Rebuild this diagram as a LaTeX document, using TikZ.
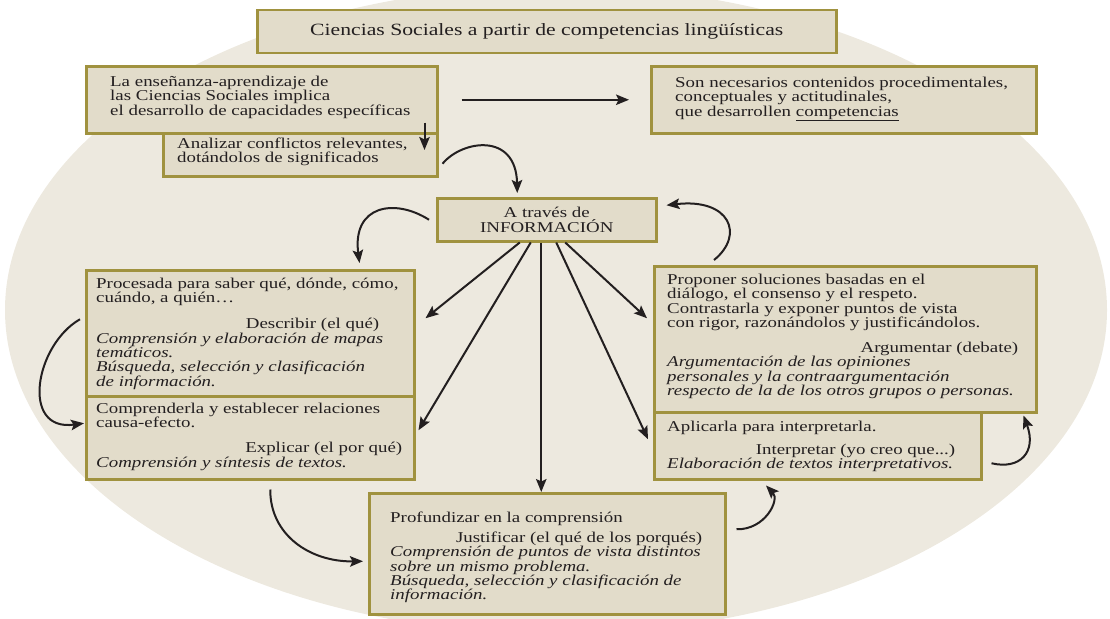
\documentclass[tikz,border=0pt]{standalone}
\usepackage{fontspec}
\setmainfont{Liberation Serif}[FakeStretch=1.26]
\usetikzlibrary{arrows.meta,positioning,calc}
\definecolor{oval}{HTML}{EDE9DF}
\definecolor{boxfill}{HTML}{E2DCCA}
\definecolor{boxline}{HTML}{A0923F}
\definecolor{ink}{HTML}{231F20}
\tikzstyle{box} = [draw=boxline,fill=boxfill,line width=2.5pt,inner sep=0pt,anchor=north west]
\tikzstyle{txt} = [align=left,inner sep=0pt,anchor=north west,text=ink,font=\fontsize{15pt}{14.4pt}\selectfont]
\tikzstyle{link} = [draw=ink,line width=2pt,->]
\tikzset{>={Stealth[length=13pt,width=10.5pt,inset=2.5pt]}}
\newcommand{\rline}[2]{\makebox[#1][r]{#2}}
\newcommand{\fst}{\rule{0pt}{11pt}}

\begin{document}
\begin{tikzpicture}[x=1pt,y=-1pt]
    \useasboundingbox (0,0) rectangle (1110,618);
    \fill [oval] (556,310) ellipse [x radius=551pt,y radius=324pt];

    % boxes
    \node [box,minimum width=579pt,minimum height=43pt,text=ink,font=\fontsize{17.2pt}{17pt}\selectfont] (title) at (256,9) {Ciencias Sociales a partir de competencias lingüísticas};
    \node [box,minimum width=351pt,minimum height=67pt] (ense) at (85,65) {};
    \node [box,minimum width=274pt,minimum height=43pt] (anal) at (162,132) {};
    \node [box,minimum width=385pt,minimum height=67pt] (cont) at (650,65) {};
    \node [box,minimum width=219pt,minimum height=43pt,align=center,text=ink,font=\fontsize{15pt}{15pt}\selectfont] (info) at (436,197) {A través de\\INFORMACIÓN};
    \node [box,minimum width=328pt,minimum height=126pt] (proc) at (85,269) {};
    \node [box,minimum width=328pt,minimum height=83pt] (comp) at (85,395) {};
    \node [box,minimum width=382pt,minimum height=146pt] (prop) at (653,265) {};
    \node [box,minimum width=327pt,minimum height=67pt] (apli) at (653,411) {};
    \node [box,minimum width=356pt,minimum height=121pt] (prof) at (368,492) {};

    % texts (first baseline 11pt below the anchor)
    \node [txt] (ense-t) at (110,75) {\fst La enseñanza-aprendizaje de\\las Ciencias Sociales implica\\el desarrollo de capacidades específicas};
    \node [txt] (anal-t) at (177,137) {\fst Analizar conflictos relevantes,\\dotándolos de significados};
    \node [txt] (cont-t) at (675,76) {\fst Son necesarios contenidos procedimentales,\\conceptuales y actitudinales,\\que desarrollen \underline{competencias}};
    \node [txt] (proc-t) at (96,277) {\fst Procesada para saber qué, dónde, cómo,\\cuándo, a quién…\\[11.6pt]
        \rline{283pt}{Describir (el qué)}\\
        \textit{Comprensión y elaboración de mapas}\\\textit{temáticos.}\\
        \textit{Búsqueda, selección y clasificación}\\\textit{de información.}};
    \node [txt] (comp-t) at (96,402) {\fst Comprenderla y establecer relaciones\\causa-efecto.\\[10.6pt]
        \rline{306pt}{Explicar (el por qué)}\\
        \textit{Comprensión y síntesis de textos.}};
    \node [txt] (prop-t) at (667,273) {\fst Proponer soluciones basadas en el\\diálogo, el consenso y el respeto.\\
        Contrastarla y exponer puntos de vista\\con rigor, razonándolos y justificándolos.\\[10.6pt]
        \rline{351pt}{Argumentar (debate)}\\
        \textit{Argumentación de las opiniones}\\\textit{personales y la contraargumentación}\\
        \textit{respecto de la de los otros grupos o personas.}};
    \node [txt] (apli-t) at (667,420) {\fst Aplicarla para interpretarla.\\[8.6pt]
        \rline{288pt}{Interpretar (yo creo que...)}\\
        \textit{Elaboración de textos interpretativos.}};
    \node [txt] (prof-t) at (390,511) {\fst Profundizar en la comprensión\\[5.6pt]
        \rline{312pt}{Justificar (el qué de los porqués)}\\
        \textit{Comprensión de puntos de vista distintos}\\\textit{sobre un mismo problema.}\\
        \textit{Búsqueda, selección y clasificación de}\\\textit{información.}};

    % arrows
    \draw [link] ([xshift=-14pt,yshift=12pt]ense.south east) -- ([xshift=-14pt,yshift=-18pt]anal.north east);
    \draw [link] ([xshift=23pt]ense.east) -- ([xshift=-21pt]cont.west);
    \draw [link] ([xshift=4pt,yshift=-9pt]anal.east) .. controls (462,140) and (516,132) .. ([xshift=-29.5pt,yshift=4pt]info.north);
    \draw [link] ([xshift=-7pt]info.west) .. controls (395,198) and (352,205) .. ([xshift=-56pt,yshift=6pt]proc.north east);
    \draw [link] ([xshift=-5pt,yshift=14pt]proc.west) .. controls (35,345) and (20,432) .. ([xshift=-1pt,yshift=14.5pt]comp.west);
    \draw [link] ([xshift=-27pt]info.south) -- ([xshift=10pt,yshift=15pt]proc.east);
    \draw [link] ([xshift=-16pt]info.south) -- ([xshift=3pt,yshift=7.5pt]comp.east);
    \draw [link] ([xshift=-5.5pt]info.south) -- ([xshift=-6pt]prof.north);
    \draw [link] ([xshift=9.5pt]info.south) -- ([xshift=-5pt,yshift=6.5pt]apli.west);
    \draw [link] ([xshift=18.5pt]info.south) -- ([xshift=-6pt,yshift=21pt]prop.west);
    \draw [link] ([xshift=61pt,yshift=5pt]prop.north west) .. controls (745,235) and (730,198) .. ([xshift=9pt,yshift=14.5pt]info.east);
    \draw [link] ([xshift=9pt,yshift=-17.5pt]apli.east) .. controls (1020,470) and (1037,452) .. ([xshift=-14pt,yshift=-2pt]prop.south east);
    \draw [link] ([xshift=10pt,yshift=24.5pt]prof.east) .. controls (765,530) and (780,500) .. ([xshift=113pt,yshift=-5pt]apli.south west);
    \draw [link] ([xshift=20pt,yshift=-9pt]comp.south) .. controls (270,535) and (310,562) .. ([xshift=-5pt,yshift=-7.5pt]prof.west);
\end{tikzpicture}
\end{document}
